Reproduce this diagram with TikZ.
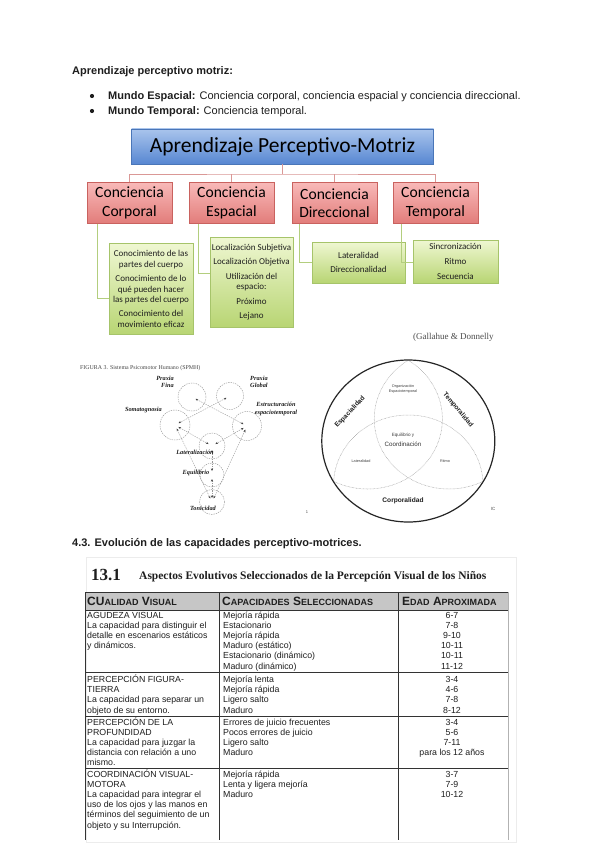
\documentclass[tikz,border=0pt]{standalone}
\usepackage{fontspec}
\setmainfont{Liberation Sans}
\newfontfamily\calfont{Carlito}
\newfontfamily\serfont{Liberation Serif}
\usetikzlibrary{arrows.meta,shadows}
\definecolor{blueT}{HTML}{A9C4EC}
\definecolor{blueB}{HTML}{5787D2}
\definecolor{blueD}{HTML}{4A76B8}
\definecolor{redT}{HTML}{F8B9B8}
\definecolor{redB}{HTML}{E27C7A}
\definecolor{redD}{HTML}{C9625F}
\definecolor{redL}{HTML}{DA9896}
\definecolor{grnT}{HTML}{EFF7D2}
\definecolor{grnB}{HTML}{B8D573}
\definecolor{grnD}{HTML}{A6C46A}
\definecolor{grnL}{HTML}{B3CE7E}
\definecolor{hdr}{HTML}{C6C6C6}
\definecolor{ink}{HTML}{1E1E1E}
\newcommand\tlines[5]{%
  \foreach \t [count=\i] in {#5} {\node[#4] (#1\i) at (#2,{#3+10.2*(\i-1)}) {\t};}}
\begin{document}
\begin{tikzpicture}[x=1pt,y=-1pt,
  body/.style={inner sep=0,anchor=base west,text=ink,font=\fontsize{11}{13}\selectfont},
  rootbox/.style={draw=blueD,line width=0.4,top color=blueT,bottom color=blueB,
    minimum width=302,minimum height=35,inner sep=0,drop shadow={shadow xshift=0.8pt,shadow yshift=-0.8pt,opacity=0.25},
    font=\calfont\fontsize{21.5}{24}\selectfont},
  redbox/.style={draw=redD,line width=0.4,top color=redT,bottom color=redB,
    minimum width=85,minimum height=41,inner sep=0,align=center,drop shadow={shadow xshift=0.8pt,shadow yshift=-0.8pt,opacity=0.25},
    font=\calfont\fontsize{15.6}{18.5}\selectfont},
  grnbox/.style={draw=grnD,line width=0.3,top color=grnT,bottom color=grnB,
    inner sep=0,align=center,text=ink,drop shadow={shadow xshift=0.6pt,shadow yshift=-0.6pt,opacity=0.2},
    font=\calfont\fontsize{9}{10.3}\selectfont},
  redline/.style={draw=redL,line width=0.8},
  grnline/.style={draw=grnL,line width=0.8},
  pcirc/.style={circle,draw=gray!80,dash pattern=on 1.4pt off 1pt,line width=0.45,inner sep=0},
  plab/.style={inner sep=0,align=center,text=ink,font=\serfont\bfseries\itshape\fontsize{6.3}{7.6}\selectfont},
  dline/.style={draw=gray!80,dash pattern=on 1.4pt off 1pt,line width=0.4,
    {Stealth[length=2.6pt,width=2.2pt,gray!50!black]}-{Stealth[length=2.6pt,width=2.2pt,gray!50!black]},shorten <=4pt,shorten >=4pt},
  vdot/.style={draw=gray!75,dash pattern=on 0.6pt off 0.8pt,line width=0.5},
  vlab/.style={inner sep=0,text=ink,font=\bfseries\fontsize{6.6}{8}\selectfont},
  vsm/.style={inner sep=0,align=center,text=gray!50!black,font=\fontsize{3.8}{4.6}\selectfont},
  cell/.style={inner sep=0,anchor=base west,text=ink,font=\fontsize{8.8}{10}\selectfont},
  cellc/.style={inner sep=0,anchor=base,text=ink,font=\fontsize{8.8}{10}\selectfont},
  hdrtxt/.style={inner sep=0,anchor=base west,text=ink,font=\bfseries\fontsize{12}{14}\selectfont},
  tline/.style={draw=black!80,line width=0.7}]
\useasboundingbox (0,0) rectangle (600,848);
\fill[white] (0,0) rectangle (600,848);

% ---------- heading and bullets ----------
\node[body] (h1) at (72,74.5) {\textbf{Aprendizaje perceptivo motriz:}};
\fill[ink] (92,96) circle[radius=2.1];
\fill[ink] (92,111) circle[radius=2.1];
\node[body] (b1) at (108,99.5) {\textbf{Mundo Espacial:} Conciencia corporal, conciencia espacial y conciencia direccional.};
\node[body] (b2) at (108,114.5) {\textbf{Mundo Temporal:} Conciencia temporal.};

% ---------- mind map ----------
\node[rootbox] (root) at (282.5,146.5) {Aprendizaje Perceptivo-Motriz};
\node[redbox] (c1) at (129.5,203) {Conciencia\\Corporal};
\node[redbox] (c2) at (231.5,203) {Conciencia\\Espacial};
\node[redbox] (c3) at (334.5,203) {Conciencia\\Direccional};
\node[redbox] (c4) at (435.5,203) {Conciencia\\Temporal};
\coordinate (j) at (282.5,174);
\draw[redline] (root.south) -- (j);
\draw[redline] (c1.north) |- (j) -| (c4.north);
\draw[redline] (c2.north) -- (c2.north |- j);
\draw[redline] (c3.north) -- (c3.north |- j);

\node[grnbox,minimum width=84,minimum height=91] (g1) at (151,289)
  {Conocimiento de las\\partes del cuerpo\\[4.3pt]Conocimiento de lo\\qué pueden hacer\\las partes del cuerpo\\[4.3pt]Conocimiento del\\movimiento eficaz};
\node[grnbox,minimum width=83,minimum height=90] (g2) at (251.5,282)
  {Localización Subjetiva\\[4.3pt]Localización Objetiva\\[4.3pt]Utilización del\\espacio:\\[4.3pt]Próximo\\[4.3pt]Lejano};
\node[grnbox,minimum width=93,minimum height=41] (g3) at (358.5,262.5)
  {Lateralidad\\[4.3pt]Direccionalidad};
\node[grnbox,minimum width=85,minimum height=43] (g4) at (455.5,261.5)
  {Sincronización\\[4.3pt]Ritmo\\[4.3pt]Secuencia};
\coordinate (k1) at (97,298);
\coordinate (k2) at (198,273);
\coordinate (k3) at (299,262);
\coordinate (k4) at (401,262);
\draw[grnline] (c1.south -| k1) -- (k1) -- (g1.west |- k1);
\draw[grnline] (c2.south -| k2) -- (k2) -- (g2.west |- k2);
\draw[grnline] (c3.south -| k3) -- (k3) -- (g3.west |- k3);
\draw[grnline] (c4.south -| k4) -- (k4) -- (g4.west |- k4);
\node[inner sep=0,anchor=base west,text=gray!60!black,font=\serfont\fontsize{9}{10}\selectfont] (cred) at (413,339) {(Gallahue \& Donnelly};

% ---------- SPMH figure ----------
\node[inner sep=0,anchor=base west,text=gray!55!black,font=\serfont\fontsize{5.9}{6.5}\selectfont] (cap) at (80,369) {FIGURA 3. Sistema Psicomotor Humano (SPMH)};
\node[pcirc,minimum size=28] (pf) at (192,397) {};
\node[pcirc,minimum size=27] (pg) at (230,396) {};
\node[pcirc,minimum size=30] (so) at (175,425) {};
\node[pcirc,minimum size=29] (es) at (247,426) {};
\node[pcirc,minimum size=26] (la) at (212,446) {};
\node[pcirc,minimum size=24] (eq) at (212,475) {};
\node[pcirc,minimum size=25] (to) at (212,502) {};
\draw[dline] (pf.center) -- (es.center);
\draw[dline] (pg.center) -- (so.center);
\draw[dline] (so.center) -- (la.center);
\draw[dline] (es.center) -- (la.center);
\draw[dline] (so.center) -- (to.center);
\draw[dline] (es.center) -- (to.center);
\draw[dline] (la.center) -- (eq.center);
\draw[dline] (eq.center) -- (to.center);
\node[plab,align=right,anchor=east] (lpf) at (174,382) {Praxia\\Fina};
\node[plab,align=left,anchor=west] (lpg) at (250,382) {Praxia\\Global};
\node[plab,anchor=east] (lso) at (162,410) {Somatognosia};
\node[plab] (les) at (276,409) {Estructuración\\espaciotemporal};
\node[plab] (lla) at (195,452) {Lateralización};
\node[plab] (leq) at (196,473) {Equilibrio};
\node[plab] (lto) at (203,508) {Tonicidad};
\node[inner sep=0,text=gray!60!black,font=\fontsize{4}{5}\selectfont] (pn) at (307,512) {1};

% ---------- Venn ----------
\begin{scope}[shift={(408.3,441)},xscale=1.068]
  \begin{scope}
    \clip (0,0) circle[radius=80.5];
    \draw[vdot] (-38.1,-22) circle[radius=70];
    \draw[vdot] (38.1,-22) circle[radius=70];
    \draw[vdot] (0,44) circle[radius=70];
  \end{scope}
  \draw[line width=1.2,black!85] (0,0) circle[radius=81];
\end{scope}
\node[vlab,rotate=47] (vE) at (350,412) {Espacialidad};
\node[vlab,rotate=-50] (vT) at (458,410) {Temporalidad};
\node[vlab] (vC) at (403,501) {Corporalidad};
\node[vsm] (vO) at (403,389) {Organización\\Espaciotemporal};
\node[vsm,font=\fontsize{4.6}{5}\selectfont] (vQ) at (403,435) {Equilibrio y};
\node[inner sep=0,text=gray!40!black,font=\fontsize{6.2}{7}\selectfont] (vQ2) at (403,444.5) {Coordinación};
\node[vsm] (vL) at (361,461) {Lateralidad};
\node[vsm] (vR) at (445,461) {Ritmo};
\node[inner sep=0,text=gray!60!black,font=\fontsize{4.5}{5}\selectfont] (ic) at (493,509) {IC};

% ---------- section 4.3 ----------
\node[body] (h43) at (72,546.5) {\textbf{4.3. Evolución de las capacidades perceptivo-motrices.}};
\draw[gray!15,line width=0.6] (86,557) rectangle (516,842);
\node[inner sep=0,anchor=base west,text=ink,font=\serfont\bfseries\fontsize{17}{19}\selectfont] (t13) at (91,580.5) {13.1};
\node[inner sep=0,anchor=base west,text=ink,font=\serfont\bfseries\fontsize{11.5}{13}\selectfont] (ttl) at (139,579) {Aspectos Evolutivos Seleccionados de la Percepción Visual de los Niños};

% table grid
\fill[hdr] (85,592) rectangle (508,610);
\draw[tline] (85,592) -- (508,592);
\draw[tline] (85,610) -- (508,610);
\draw[tline] (85,672) -- (508,672);
\draw[tline] (85,716.5) -- (508,716.5);
\draw[tline] (85,768.5) -- (508,768.5);
\draw[tline] (85,592) -- (85,840);
\draw[tline] (219,592) -- (219,840);
\draw[tline] (398,592) -- (398,840);
\draw[draw=gray!60,line width=0.7] (508,592) -- (508,840);

\node[hdrtxt] (hd1) at (87,605.5) {CU{\fontsize{9}{10}\selectfont ALIDAD} V{\fontsize{9}{10}\selectfont ISUAL}};
\node[hdrtxt] (hd2) at (222,605.5) {C{\fontsize{9}{10}\selectfont APACIDADES} S{\fontsize{9}{10}\selectfont ELECCIONADAS}};
\node[hdrtxt] (hd3) at (402,605.5) {E{\fontsize{9}{10}\selectfont DAD} A{\fontsize{9}{10}\selectfont PROXIMADA}};

\tlines{ra}{87}{618}{cell}{AGUDEZA VISUAL,La capacidad para distinguir el,detalle en escenarios estáticos,y dinámicos.}
\tlines{rb}{223}{618}{cell}{Mejoría rápida,Estacionario,Mejoría rápida,Maduro (estático),Estacionario (dinámico),Maduro (dinámico)}
\tlines{rc}{452}{618}{cellc}{6-7,7-8,9-10,10-11,10-11,11-12}

\tlines{sa}{87}{682.5}{cell}{PERCEPCIÓN FIGURA-,TIERRA,La capacidad para separar un,objeto de su entorno.}
\tlines{sb}{223}{682.5}{cell}{Mejoría lenta,Mejoría rápida,Ligero salto,Maduro}
\tlines{sc}{452}{682.5}{cellc}{3-4,4-6,7-8,8-12}

\tlines{ua}{87}{725}{cell}{PERCEPCIÓN DE LA,PROFUNDIDAD,La capacidad para juzgar la,distancia con relación a uno,mismo.}
\tlines{ub}{223}{725}{cell}{Errores de juicio frecuentes,Pocos errores de juicio,Ligero salto,Maduro}
\tlines{uc}{452}{725}{cellc}{3-4,5-6,7-11,para los 12 años}

\tlines{wa}{87}{777}{cell}{COORDINACIÓN VISUAL-,MOTORA,La capacidad para integrar el,uso de los ojos y las manos en,términos del seguimiento de un,objeto y su Interrupción.}
\tlines{wb}{223}{777}{cell}{Mejoría rápida,Lenta y ligera mejoría,Maduro}
\tlines{wc}{452}{777}{cellc}{3-7,7-9,10-12}
\end{tikzpicture}
\end{document}
